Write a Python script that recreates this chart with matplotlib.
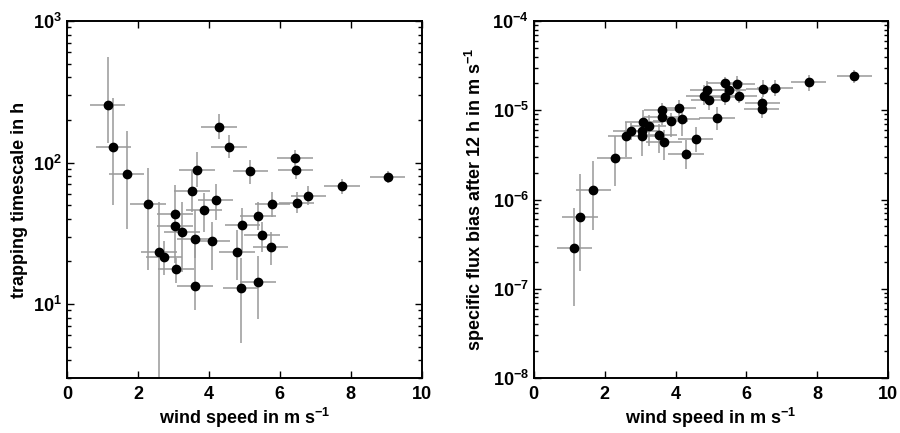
import numpy as np
import matplotlib
matplotlib.use("Agg")
import matplotlib.pyplot as plt
from matplotlib.ticker import LogLocator, NullFormatter, MultipleLocator

plt.rcParams["font.family"] = ["Liberation Sans", "DejaVu Sans"]
plt.rcParams["font.weight"] = "bold"
plt.rcParams["mathtext.fontset"] = "custom"
plt.rcParams["mathtext.rm"] = "Liberation Sans:bold"
plt.rcParams["mathtext.bf"] = "Liberation Sans:bold"
plt.rcParams["mathtext.it"] = "Liberation Sans:bold"
plt.rcParams["mathtext.default"] = "bf"

# wind speed (m/s), shared by both panels
wind = [1.15, 1.31, 1.68, 2.28, 2.60, 2.74, 3.05, 3.05, 3.08, 3.24, 3.53, 3.61,
        3.61, 3.67, 3.86, 4.09, 4.19, 4.29, 4.57, 4.79, 4.90, 4.95, 5.17, 5.39,
        5.39, 5.50, 5.74, 5.79, 6.43, 6.45, 6.48, 6.81, 7.75, 9.04]
wind_err = 0.5

# trapping timescale (h) with lower / upper bounds
tau = [254, 129, 83, 51, 23.2, 21.4, 43, 35.7, 17.6, 32.4, 63, 28.8,
       13.5, 88, 46, 27.9, 54, 179, 129, 23.3, 13.0, 36.1, 87, 42,
       14.4, 30.6, 25.3, 51, 107, 88, 52, 58, 68, 79]
tau_lo = [137, 50, 34, 17.4, 1.0, 16, 36, 19.4, 14, 16.8, 45, 21,
          9, 67, 32.4, 17.4, 39, 146, 107, 14.8, 5.3, 23.3, 71, 33.4,
          7.9, 23.3, 19, 41.5, 94, 76, 44, 50, 60, 72]
tau_hi = [560, 285, 168, 91, 53, 28, 69, 45, 21, 53, 88.5, 46,
          27, 118, 60.5, 38, 71, 220, 156, 33.4, 21, 47.5, 104, 53,
          21.8, 38, 32.4, 62, 122, 94, 62, 68.5, 76, 86.5]

# specific flux bias after 12 h (m/s) with lower / upper bounds
flux = [2.89e-7, 6.3e-7, 1.29e-6, 2.94e-6, 5.2e-6, 5.8e-6, 5.1e-6, 5.8e-6, 7.4e-6,
        6.6e-6, 5.3e-6, 1.0e-5, 8.3e-6, 4.45e-6, 7.5e-6, 1.05e-5, 7.9e-6, 3.26e-6,
        4.8e-6, 1.46e-5, 1.7e-5, 1.3e-5, 8.2e-6, 2.0e-5, 1.41e-5, 1.7e-5, 1.98e-5,
        1.44e-5, 1.03e-5, 1.21e-5, 1.74e-5, 1.77e-5, 2.05e-5, 2.41e-5]
flux_lo = [6.4e-8, 1.6e-7, 4.5e-7, 1.43e-6, 3.0e-6, 4.6e-6, 3.1e-6, 4.5e-6, 4.8e-6,
           4.0e-6, 3.3e-6, 8.4e-6, 6.8e-6, 2.74e-6, 5.0e-6, 8.1e-6, 5.2e-6, 2.2e-6,
           3.4e-6, 1.14e-5, 1.35e-5, 1.0e-5, 6.0e-6, 1.68e-5, 1.15e-5, 1.45e-5, 1.6e-5,
           1.2e-5, 8.1e-6, 1.05e-5, 1.4e-5, 1.45e-5, 1.66e-5, 2.0e-5]
flux_hi = [8.0e-7, 1.95e-6, 2.7e-6, 5.2e-6, 7.4e-6, 7.2e-6, 7.4e-6, 7.5e-6, 1.0e-5,
           8.8e-6, 7.1e-6, 1.2e-5, 1.0e-5, 6.0e-6, 9.2e-6, 1.3e-5, 9.6e-6, 4.6e-6,
           6.5e-6, 1.9e-5, 2.1e-5, 1.55e-5, 1.1e-5, 2.35e-5, 1.7e-5, 2.0e-5, 2.4e-5,
           1.75e-5, 1.18e-5, 1.4e-5, 2.2e-5, 2.2e-5, 2.5e-5, 2.85e-5]


def panel(ax, y, lo, hi, ylim, ylabel):
    y = np.array(y)
    yerr = [y - np.array(lo), np.array(hi) - y]
    ax.errorbar(wind, y, xerr=wind_err, yerr=yerr, fmt="o", color="black",
                ms=6, ecolor="#999999", elinewidth=1.1, capsize=0)
    ax.set_yscale("log")
    ax.set_xlim(0, 10)
    ax.set_ylim(*ylim)
    ax.xaxis.set_major_locator(MultipleLocator(2))
    ax.yaxis.set_major_locator(LogLocator(base=10, numticks=12))
    ax.yaxis.set_minor_locator(LogLocator(base=10, subs=np.arange(2, 10), numticks=12))
    ax.yaxis.set_minor_formatter(NullFormatter())
    ax.tick_params(which="both", direction="in", top=True, right=True,
                   labelsize=13, width=1)
    ax.tick_params(axis="x", pad=6)
    ax.tick_params(which="major", length=5)
    ax.tick_params(which="minor", length=3)
    for sp in ax.spines.values():
        sp.set_linewidth(1.4)
    ax.set_xlabel("wind speed in m s$^{-1}$", fontsize=13, fontweight="bold",
                  labelpad=2)
    ax.set_ylabel(ylabel, fontsize=13, fontweight="bold")


fig = plt.figure(figsize=(9, 4.33), dpi=100)
ax1 = fig.add_axes([0.0744, 0.127, 0.394, 0.8245])
ax2 = fig.add_axes([0.593, 0.127, 0.394, 0.8245])

panel(ax1, tau, tau_lo, tau_hi, (3, 1000), "trapping timescale in h")
panel(ax2, flux, flux_lo, flux_hi, (1e-8, 1e-4),
      "specific flux bias after 12 h in m s$^{-1}$")

fig.savefig("out.png", dpi=100)
